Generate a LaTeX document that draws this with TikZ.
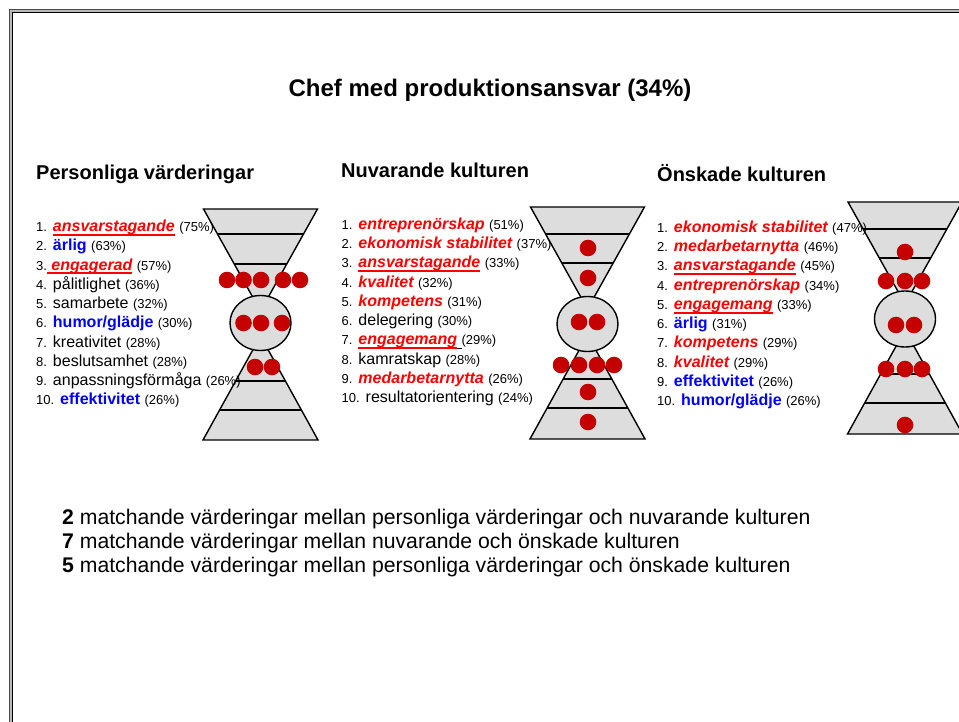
\documentclass[tikz,border=0pt]{standalone}
\usepackage{fontspec}
\setmainfont{Liberation Sans}
\definecolor{dotred}{RGB}{196,0,0}
\definecolor{hgfill}{RGB}{221,221,221}
\definecolor{vred}{RGB}{255,0,0}
\definecolor{vblue}{RGB}{0,0,255}
\newcommand\nr[1]{{\fontsize{13}{15}\selectfont #1}}
\newcommand\rv[1]{{\bfseries\itshape\color{vred}#1}}
\newcommand\bv[1]{{\bfseries\color{vblue}#1}}
\newcommand\ulred[1]{\setbox0\hbox{#1}\rlap{\color{vred}\rule[-4.2pt]{\wd0}{1.8pt}}\box0\relax}
\newcommand\ulblk[1]{\setbox0\hbox{#1}\rlap{\color{black}\rule[-4.2pt]{\wd0}{1.4pt}}\box0\relax}
\newcommand\hglass[9]{%
  \fill[hgfill] (#1-57,#2) -- (#1+57,#2) -- (#1,#2+102) -- cycle;
  \begin{scope}
    \clip (#1-57,#2) -- (#1+57,#2) -- (#1,#2+102) -- cycle;
    \draw[hgin] (#1-60,#3) -- (#1+60,#3) (#1-60,#4) -- (#1+60,#4);
  \end{scope}
  \draw[hgline] (#1-57,#2) -- (#1+57,#2) -- (#1,#2+102) -- cycle;
  \fill[hgfill] (#1-57.5,#9) -- (#1+57.5,#9) -- (#1,#9-104) -- cycle;
  \begin{scope}
    \clip (#1-57.5,#9) -- (#1+57.5,#9) -- (#1,#9-104) -- cycle;
    \draw[hgin] (#1-60,#7) -- (#1+60,#7) (#1-60,#8) -- (#1+60,#8);
  \end{scope}
  \draw[hgline] (#1-57.5,#9) -- (#1+57.5,#9) -- (#1,#9-104) -- cycle;
  \filldraw[fill=hgfill, hgline] (#1,#5) ellipse [x radius=30.5pt, y radius=#6pt];
}
\begin{document}
\begin{tikzpicture}[x=1pt, y=-1pt,
  hgline/.style={draw=black, line width=1.4pt, line join=miter},
  hgin/.style={draw=black, line width=2pt},
  reddot/.style={fill=dotred},
  item/.style={anchor=base west, inner sep=0pt, font=\fontsize{16}{19}\selectfont},
  header/.style={anchor=base west, inner sep=0pt, font=\fontsize{20}{24}\selectfont\bfseries},
  summary/.style={anchor=base west, inner sep=0pt, font=\fontsize{21.2}{24}\selectfont}]
\useasboundingbox (0,0) rectangle (959,722);
\fill[white] (0,0) rectangle (959,722);
% frame
\draw[gray!55, line width=3pt] (10.5,740) -- (10.5,10.5) -- (980,10.5);
\draw[black!70, line width=0.9pt] (9,740) -- (9,9) -- (980,9);
\draw[black, line width=1.3pt] (12.3,740) -- (12.3,12.3) -- (980,12.3);

% title
\node[anchor=base, inner sep=0pt, font=\fontsize{24}{28}\selectfont\bfseries] (title) at (490,96.5) {Chef med produktionsansvar (34\%)};

% headers
\node[header] (h1) at (36,180) {Personliga värderingar};
\node[header] (h2) at (341,178) {Nuvarande kulturen};
\node[header] (h3) at (657,182) {Önskade kulturen};

% hourglasses
\hglass{260.5}{209}{234}{264}{323}{27.5}{381}{410}{440}
\hglass{587.5}{207}{234}{263}{324}{27.5}{379}{408}{439}
\hglass{905}{202}{229}{258}{319}{28}{374}{403}{434}

% dots
\foreach \p in {(227,280),(243.5,280),(261,280),(283,280),(300,280),(243.5,323),(261,323),(282,323),(255,367),(272,367),
  (588,248),(588,278),(579,322),(597,322),(561,365),(579,365),(597,365),(614,365),(588,392),(588,422),
  (905,252),(886,281),(905,281),(922,281),(896,325),(914,325),(886,369),(905,369),(922,369),(905,425)}
  \fill[reddot] \p circle (8.3pt);

% list 1
\node[item] (a1) at (36,231.5) {\nr{1.} \ulred{\rv{ansvarstagande}} \nr{(75\%)}};
\node[item] (a2) at (36,250.76) {\nr{2.} \bv{ärlig} \nr{(63\%)}};
\node[item] (a3) at (36,270.02) {\nr{3.}\ulred{ \rv{engagerad}} \nr{(57\%)}};
\node[item] (a4) at (36,289.28) {\nr{4.} pålitlighet \nr{(36\%)}};
\node[item] (a5) at (36,308.54) {\nr{5.} samarbete \nr{(32\%)}};
\node[item] (a6) at (36,327.8) {\nr{6.} \bv{humor/glädje} \nr{(30\%)}};
\node[item] (a7) at (36,347.06) {\nr{7.} kreativitet \nr{(28\%)}};
\node[item] (a8) at (36,366.32) {\nr{8.} beslutsamhet \nr{(28\%)}};
\node[item] (a9) at (36,385.58) {\nr{9.} anpassningsförmåga \nr{(26\%)}};
\node[item] (a10) at (36,404.84) {\nr{10.} \bv{effektivitet} \nr{(26\%)}};

% list 2
\node[item] (b1) at (341.5,229.3) {\nr{1.} \rv{entreprenörskap} \nr{(51\%)}};
\node[item] (b2) at (341.5,248.56) {\nr{2.} \rv{ekonomisk stabilitet} \nr{(37\%)}};
\node[item] (b3) at (341.5,267.82) {\nr{3.} \ulred{\rv{ansvarstagande}} \nr{(33\%)}};
\node[item] (b4) at (341.5,287.08) {\nr{4.} \rv{kvalitet} \nr{(32\%)}};
\node[item] (b5) at (341.5,306.34) {\nr{5.} \rv{kompetens} \nr{(31\%)}};
\node[item] (b6) at (341.5,325.6) {\nr{6.} delegering \nr{(30\%)}};
\node[item] (b7) at (341.5,344.86) {\nr{7.} \ulred{\rv{engagemang}}\ulblk{ }\nr{(29\%)}};
\node[item] (b8) at (341.5,364.12) {\nr{8.} kamratskap \nr{(28\%)}};
\node[item] (b9) at (341.5,383.38) {\nr{9.} \rv{medarbetarnytta} \nr{(26\%)}};
\node[item] (b10) at (341.5,402.64) {\nr{10.} resultatorientering \nr{(24\%)}};

% list 3
\node[item] (c1) at (657,232.3) {\nr{1.} \rv{ekonomisk stabilitet} \nr{(47\%)}};
\node[item] (c2) at (657,251.56) {\nr{2.} \rv{medarbetarnytta} \nr{(46\%)}};
\node[item] (c3) at (657,270.82) {\nr{3.} \ulred{\rv{ansvarstagande}} \nr{(45\%)}};
\node[item] (c4) at (657,290.08) {\nr{4.} \rv{entreprenörskap} \nr{(34\%)}};
\node[item] (c5) at (657,309.34) {\nr{5.} \ulred{\rv{engagemang}} \nr{(33\%)}};
\node[item] (c6) at (657,328.6) {\nr{6.} \bv{ärlig} \nr{(31\%)}};
\node[item] (c7) at (657,347.86) {\nr{7.} \rv{kompetens} \nr{(29\%)}};
\node[item] (c8) at (657,367.12) {\nr{8.} \rv{kvalitet} \nr{(29\%)}};
\node[item] (c9) at (657,386.38) {\nr{9.} \bv{effektivitet} \nr{(26\%)}};
\node[item] (c10) at (657,405.64) {\nr{10.} \bv{humor/glädje} \nr{(26\%)}};

% summary
\node[summary] (s1) at (62,524) {\textbf{2} matchande värderingar mellan personliga värderingar och nuvarande kulturen};
\node[summary] (s2) at (62,548) {\textbf{7} matchande värderingar mellan nuvarande och önskade kulturen};
\node[summary] (s3) at (62,572) {\textbf{5} matchande värderingar mellan personliga värderingar och önskade kulturen};
\end{tikzpicture}
\end{document}
